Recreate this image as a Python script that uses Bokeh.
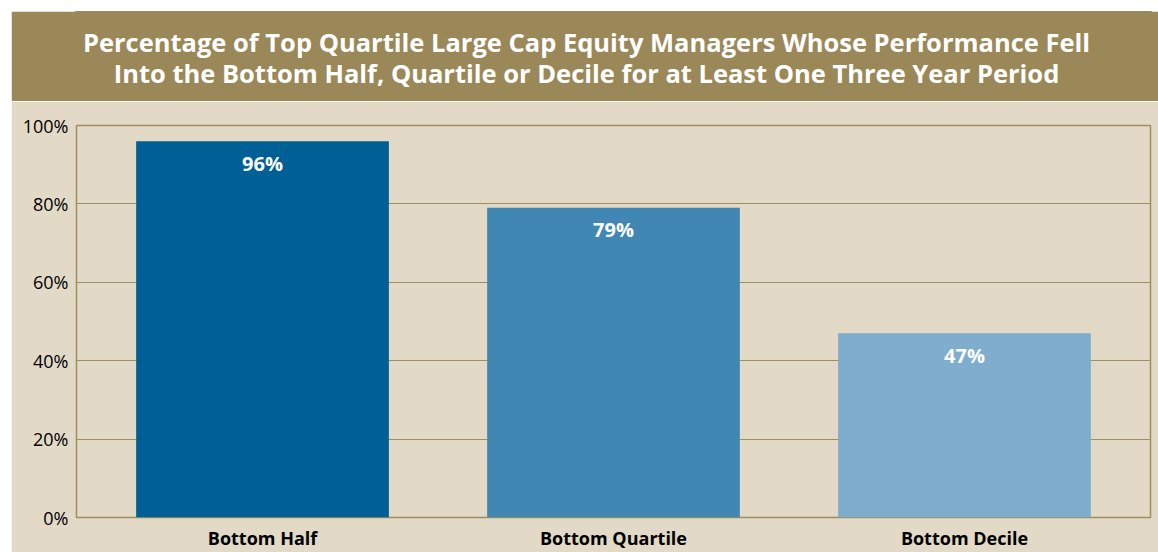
from bokeh.plotting import figure
from bokeh.layouts import column, row
from bokeh.models import Spacer, FactorRange, Range1d, ColumnDataSource, FixedTicker
from bokeh.core.properties import value
from bokeh.embed import file_html
from bokeh.resources import INLINE

# ---- data ----
title_lines = [
    "Percentage of Top Quartile Large Cap Equity Managers Whose Performance Fell",
    "Into the Bottom Half, Quartile or Decile for at Least One Three Year Period",
]
categories = ["Bottom Half", "Bottom Quartile", "Bottom Decile"]
values = [96, 79, 47]
bar_labels = ["96%", "79%", "47%"]
bar_colors = ["#006096", "#4187b4", "#7eadcd"]
y_ticks = [0, 20, 40, 60, 80, 100]
y_tick_labels = ["0%", "20%", "40%", "60%", "80%", "100%"]

GOLD = "#9b8858"
BEIGE = "#e2d9c6"
LINE = "#a08f5e"
FONT = "Open Sans"

W = 1147

# ---- header ----
header = figure(width=W, height=90, x_range=Range1d(76, 1150), y_range=Range1d(0, 90),
                x_axis_type=None, y_axis_type=None,
                toolbar_location=None, output_backend="svg",
                min_border=0, min_border_left=0, min_border_right=0,
                min_border_top=0, min_border_bottom=0)
header.background_fill_color = GOLD
header.border_fill_color = GOLD
header.outline_line_color = GOLD
header.outline_line_width = 3
header.grid.visible = False
header.text(x=[586, 586], y=[60, 29], text=title_lines,
            text_align="center", text_baseline="middle",
            text_color="white", text_font=value(FONT), text_font_style="bold",
            text_font_size="25.5px")

# ---- main chart ----
src = ColumnDataSource(dict(cat=categories, val=values, lab=bar_labels, col=bar_colors))

p = figure(width=W, height=451,
           x_range=FactorRange(*categories, range_padding=0.02),
           y_range=Range1d(0, 100),
           toolbar_location=None, output_backend="svg",
           min_border_left=65, min_border_right=8, min_border_top=24, min_border_bottom=32)
p.background_fill_color = BEIGE
p.border_fill_color = BEIGE
p.outline_line_color = LINE
p.outline_line_width = 1.5

p.vbar(x="cat", top="val", width=0.72, color="col", source=src, line_color=None)
p.text(x="cat", y="val", text="lab", source=src, y_offset=22,
       text_align="center", text_baseline="middle", text_color="white",
       text_font=value(FONT), text_font_style="bold", text_font_size="20px")

p.xgrid.visible = False
p.ygrid.grid_line_color = LINE
p.ygrid.grid_line_width = 1
p.yaxis.ticker = FixedTicker(ticks=y_ticks)
p.yaxis.major_label_overrides = {t: l for t, l in zip(y_ticks, y_tick_labels)}

for ax in (p.xaxis, p.yaxis):
    ax.axis_line_color = None
    ax.major_tick_line_color = None
    ax.minor_tick_line_color = None
    ax.major_tick_out = 0
    ax.major_tick_in = 0
    ax.minor_tick_out = 0
    ax.minor_tick_in = 0
    ax.major_label_text_color = "black"
    ax.major_label_text_font = FONT

p.yaxis.major_label_text_font_size = "18px"
p.yaxis.major_label_standoff = 8
p.xaxis.major_label_text_font_size = "18px"
p.xaxis.major_label_text_font_style = "bold"
p.xaxis.major_label_standoff = 8

layout = row(Spacer(width=11), column(Spacer(height=11), header, p))

open("out.html", "w").write(file_html(layout, INLINE))
